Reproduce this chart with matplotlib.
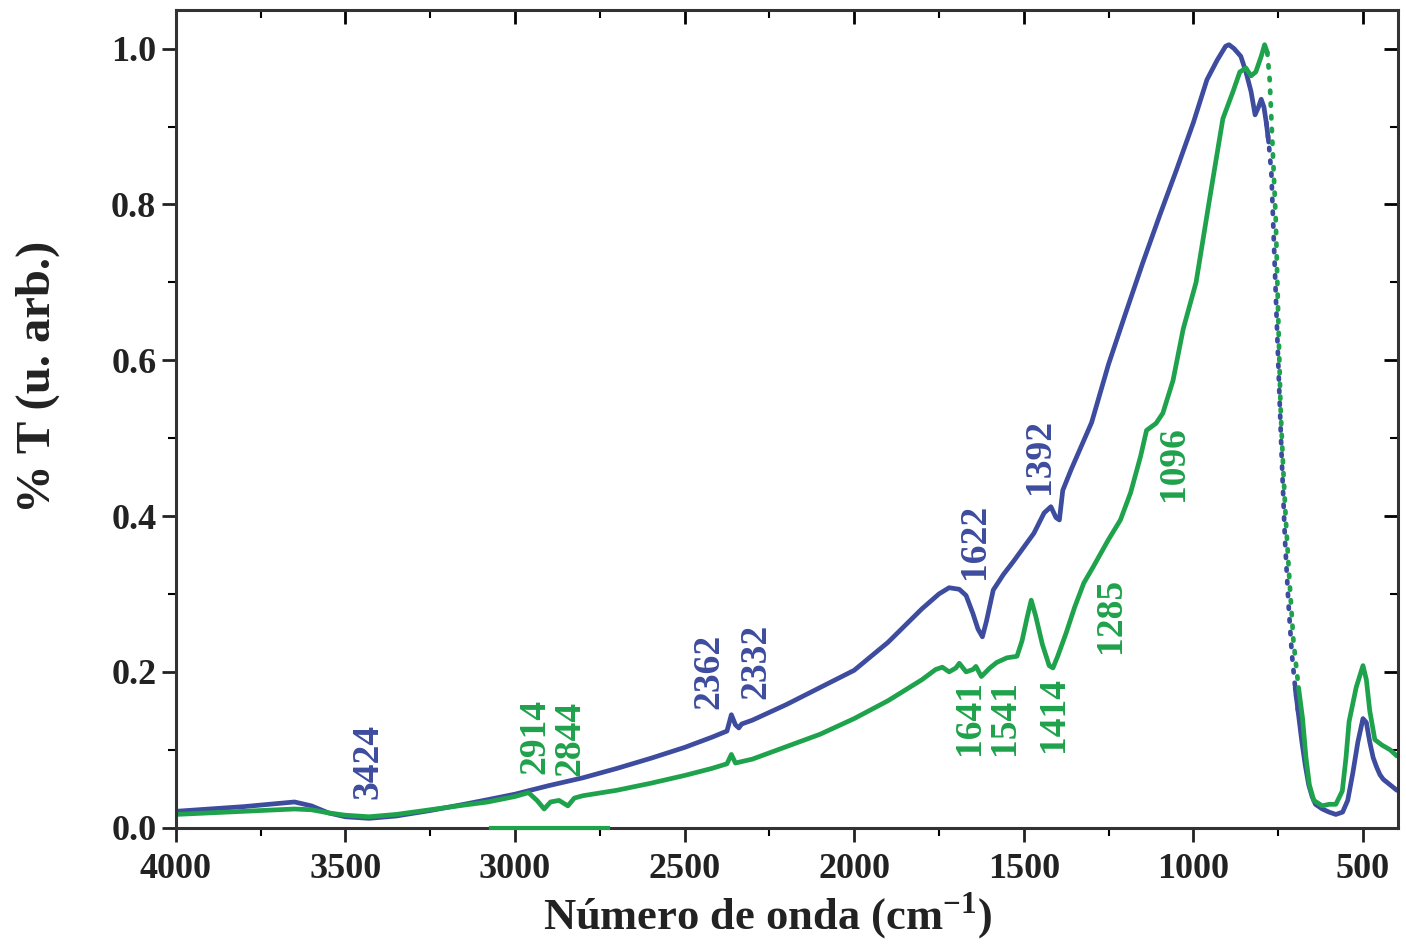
import numpy as np
import matplotlib.pyplot as plt
from matplotlib.ticker import MultipleLocator, FormatStrFormatter

plt.rcParams['font.family'] = ['Liberation Serif', 'DejaVu Serif']
plt.rcParams['font.weight'] = 'bold'
plt.rcParams['mathtext.fontset'] = 'custom'
plt.rcParams['mathtext.bf'] = 'Liberation Serif:bold'
plt.rcParams['mathtext.rm'] = 'Liberation Serif:bold'

# blue spectrum (wavenumber, %T)
blue_w = [4000, 3900, 3800, 3700, 3650, 3600, 3550, 3500, 3430, 3350, 3250, 3150, 3080,
          3000, 2900, 2800, 2700, 2600, 2500, 2420, 2375, 2362, 2350, 2340, 2332, 2300,
          2200, 2100, 2000, 1900, 1800, 1750, 1720, 1690, 1670, 1650, 1635, 1622, 1610,
          1590, 1560, 1530, 1500, 1470, 1440, 1420, 1405, 1395, 1385, 1360, 1330, 1300,
          1250, 1200, 1150, 1100, 1050, 1000, 960, 930, 905, 895, 880, 860, 845, 830,
          818, 808, 800, 792, 785, 778, 770, 760, 750, 740, 730, 720, 710, 700, 690,
          680, 670, 660, 650, 640, 620, 600, 580, 560, 545, 530, 515, 500, 490, 480,
          470, 460, 450, 440, 420, 400]
blue_t = [0.021, 0.024, 0.027, 0.031, 0.033, 0.028, 0.019, 0.014, 0.012, 0.015, 0.022, 0.030, 0.036,
          0.043, 0.054, 0.064, 0.076, 0.089, 0.103, 0.116, 0.124, 0.145, 0.132, 0.128, 0.133, 0.138,
          0.158, 0.180, 0.202, 0.238, 0.281, 0.300, 0.308, 0.306, 0.298, 0.275, 0.255, 0.245, 0.265,
          0.305, 0.325, 0.342, 0.360, 0.378, 0.404, 0.412, 0.398, 0.395, 0.433, 0.460, 0.490, 0.520,
          0.595, 0.660, 0.724, 0.785, 0.844, 0.905, 0.960, 0.985, 1.003, 1.005, 1.000, 0.990, 0.970, 0.945,
          0.915, 0.925, 0.935, 0.925, 0.905, 0.880, 0.840, 0.720, 0.600, 0.480, 0.370, 0.290, 0.225, 0.180, 0.145,
          0.110, 0.080, 0.055, 0.040, 0.030, 0.024, 0.020, 0.017, 0.020, 0.035, 0.070, 0.110, 0.140, 0.135, 0.110,
          0.090, 0.078, 0.068, 0.062, 0.055, 0.048]

# green spectrum
green_w = [4000, 3900, 3800, 3700, 3650, 3600, 3550, 3500, 3430, 3350, 3250, 3150, 3080,
           3000, 2960, 2935, 2914, 2895, 2870, 2844, 2825, 2800, 2700, 2600, 2500, 2420,
           2375, 2362, 2350, 2300, 2200, 2100, 2000, 1900, 1800, 1760, 1740, 1720, 1700,
           1690, 1670, 1650, 1641, 1625, 1600, 1580, 1550, 1520, 1505, 1490, 1478, 1465,
           1445, 1425, 1414, 1400, 1375, 1350, 1323, 1295, 1250, 1215, 1185, 1156, 1138,
           1110, 1090, 1060, 1030, 992, 951, 913, 883, 863, 845, 830, 816, 800, 790, 782,
           775, 765, 757, 750, 743, 735, 728, 717, 705, 690, 678, 668, 658, 645, 620, 600,
           580, 561, 550, 541, 520, 500, 490, 480, 465, 444, 420, 400]
green_t = [0.017, 0.019, 0.021, 0.023, 0.024, 0.023, 0.019, 0.016, 0.014, 0.017, 0.023, 0.029, 0.033,
           0.040, 0.045, 0.035, 0.024, 0.033, 0.035, 0.028, 0.038, 0.041, 0.048, 0.057, 0.067, 0.076,
           0.082, 0.094, 0.083, 0.088, 0.104, 0.120, 0.140, 0.163, 0.190, 0.203, 0.206, 0.200, 0.205,
           0.211, 0.200, 0.203, 0.207, 0.194, 0.205, 0.212, 0.218, 0.220, 0.240, 0.270, 0.292, 0.272,
           0.235, 0.208, 0.205, 0.220, 0.250, 0.283, 0.314, 0.335, 0.370, 0.395, 0.430, 0.476, 0.510,
           0.519, 0.532, 0.574, 0.640, 0.700, 0.810, 0.910, 0.945, 0.970, 0.975, 0.965, 0.970, 0.990, 1.005, 0.995,
           0.960, 0.860, 0.780, 0.660, 0.540, 0.460, 0.400, 0.320, 0.240, 0.180, 0.140, 0.090, 0.055, 0.035, 0.028, 0.030,
           0.030, 0.047, 0.090, 0.136, 0.180, 0.208, 0.190, 0.150, 0.113, 0.106, 0.100, 0.092]

# peak labels and where they sit (wavenumber, %T)
blue_labels = ['3424', '2362', '2332', '1622', '1392']
blue_lab_x = [3432, 2427, 2289, 1645, 1455]
blue_lab_y = [0.085, 0.200, 0.214, 0.367, 0.476]
green_labels = ['2914', '2844', '1641', '1541', '1414', '1285', '1096']
green_lab_x = [2940, 2838, 1660, 1557, 1411, 1244, 1059]
green_lab_y = [0.117, 0.115, 0.141, 0.142, 0.145, 0.273, 0.468]

# green smear on the x axis in the original scan
smear_w = [3070, 2725]
smear_t = [0.0, 0.0]

BLUE = '#3d4c9e'
GREEN = '#1fa24c'

fig = plt.figure(figsize=(14.06, 9.47), dpi=100)
ax = fig.add_axes([0.125, 0.126, 0.869, 0.863])

def draw(w, t, c):
    w = np.array(w); t = np.array(t)
    hi = w >= 778
    mid = (w <= 785) & (w >= 690)
    lo = w <= 700
    ax.plot(w[hi], t[hi], color=c, lw=3.4, solid_capstyle='round')
    ax.plot(w[mid], t[mid], color=c, lw=3.4, ls=(0, (0.5, 2.2)), dash_capstyle='round')
    ax.plot(w[lo], t[lo], color=c, lw=3.4, solid_capstyle='round')

draw(blue_w, blue_t, BLUE)
draw(green_w, green_t, GREEN)
ax.plot(smear_w, smear_t, color=GREEN, lw=3, clip_on=False, zorder=5)

for s, x, y in zip(blue_labels, blue_lab_x, blue_lab_y):
    ax.text(x, y, s, color=BLUE, rotation=90, ha='center', va='center', fontsize=27, fontweight='bold')
for s, x, y in zip(green_labels, green_lab_x, green_lab_y):
    ax.text(x, y, s, color=GREEN, rotation=90, ha='center', va='center', fontsize=27, fontweight='bold')

ax.set_xlim(4000, 398)
ax.set_ylim(0, 1.049)
ax.xaxis.set_major_locator(MultipleLocator(500))
ax.xaxis.set_minor_locator(MultipleLocator(250))
ax.yaxis.set_major_locator(MultipleLocator(0.2))
ax.yaxis.set_minor_locator(MultipleLocator(0.1))
ax.yaxis.set_major_formatter(FormatStrFormatter('%.1f'))
ax.tick_params(which='major', direction='out', length=10, width=2, labelsize=26, colors='#222222')
ax.tick_params(axis='x', which='major', pad=8)
ax.tick_params(axis='y', which='major', pad=4)
ax.tick_params(which='minor', direction='out', length=6, width=1.5)
for lab in ax.get_xticklabels() + ax.get_yticklabels():
    lab.set_fontweight('bold')
for sp in ax.spines.values():
    sp.set_linewidth(2.2)
    sp.set_color('#333333')

top = ax.secondary_xaxis('top')
top.xaxis.set_major_locator(MultipleLocator(500))
top.xaxis.set_minor_locator(MultipleLocator(250))
top.tick_params(which='major', direction='in', length=10, width=2, labeltop=False)
top.tick_params(which='minor', direction='in', length=6, width=1.5)
right = ax.secondary_yaxis('right')
right.yaxis.set_major_locator(MultipleLocator(0.2))
right.yaxis.set_minor_locator(MultipleLocator(0.1))
right.tick_params(which='major', direction='in', length=10, width=2, labelright=False)
right.tick_params(which='minor', direction='in', length=6, width=1.5)

ax.set_xlabel('Número de onda (cm$^{\\mathbf{-1}}$)', fontsize=32, fontweight='bold', color='#222222')
ax.xaxis.set_label_coords(0.484, -0.077)
ax.set_ylabel('% T (u. arb.)', fontsize=35, fontweight='bold', color='#222222')
ax.yaxis.set_label_coords(-0.095, 0.551)

fig.savefig('out.png', dpi=100)
